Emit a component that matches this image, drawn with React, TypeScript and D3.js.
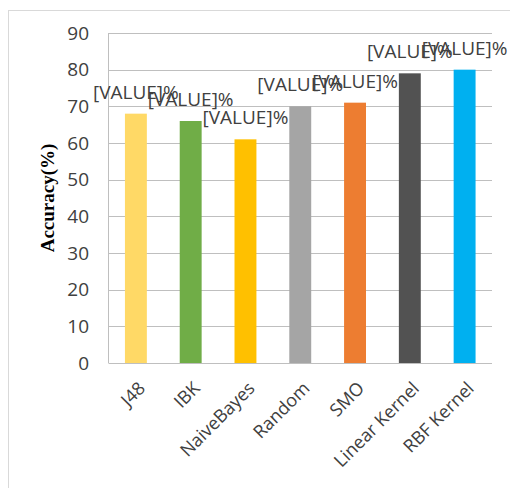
import React from "react";
import * as d3 from "d3";

const categories = ["J48", "IBK", "NaiveBayes", "Random", "SMO", "Linear Kernel", "RBF Kernel"];
const accuracy = [68, 66, 61, 70, 71, 79, 80];
const colors = ["#FFD966", "#70AD47", "#FFC000", "#A5A5A5", "#ED7D31", "#525252", "#00B0F0"];
const yTicks = [0, 10, 20, 30, 40, 50, 60, 70, 80, 90];
const labelText = "[VALUE]%";
const yTitle = "Accuracy(%)";

export default function App() {
  const W = 510, H = 488;
  const left = 108.5, right = 492, top = 33, bottom = 363;
  const x = d3.scaleBand<string>().domain(categories).range([left, right]).paddingInner(0.6).paddingOuter(0.3);
  const y = d3.scaleLinear().domain([0, 90]).range([bottom, top]);
  const font = "'Open Sans', 'Liberation Sans', sans-serif";
  return (
    <svg width={W} height={H} style={{ position: "absolute", left: 0, top: 0 }}>
      <rect x={0} y={0} width={W} height={H} fill="#fff" />
      <rect x={8.5} y={10.5} width={W} height={H} fill="none" stroke="#d9d9d9" strokeWidth={1} />
      {yTicks.map((t) => (
        <g key={t}>
          <line x1={left} x2={right} y1={Math.round(y(t)) + 0.5} y2={Math.round(y(t)) + 0.5} stroke="#bfbfbf" strokeWidth={1} />
          <text x={89} y={y(t)} dy="0.35em" textAnchor="end" fontFamily={font} fontSize={19} fill="#404040">{t}</text>
        </g>
      ))}
      <line x1={left} x2={left} y1={top} y2={bottom} stroke="#bfbfbf" strokeWidth={1} />
      {categories.map((c, i) => (
        <rect key={c} x={x(c)} y={y(accuracy[i])} width={x.bandwidth()} height={bottom - y(accuracy[i])} fill={colors[i]} />
      ))}
      {categories.map((c, i) => (
        <text key={c + "l"} x={(x(c) as number) + x.bandwidth() / 2} y={y(accuracy[i]) - 15} textAnchor="middle" fontFamily={font} fontSize={19} fill="#404040">{labelText}</text>
      ))}
      {categories.map((c) => {
        const cx = (x(c) as number) + x.bandwidth() / 2 + 6;
        const cy = bottom + 22;
        return (
          <text key={c + "x"} transform={`translate(${cx},${cy}) rotate(-45)`} textAnchor="end" dy="0.35em" fontFamily={font} fontSize={18} fill="#404040">{c}</text>
        );
      })}
      <text transform={`translate(54,198) rotate(-90)`} textAnchor="middle" fontFamily="'Liberation Serif', 'Times New Roman', serif" fontWeight="bold" fontSize={19} fill="#000">{yTitle}</text>
    </svg>
  );
}
